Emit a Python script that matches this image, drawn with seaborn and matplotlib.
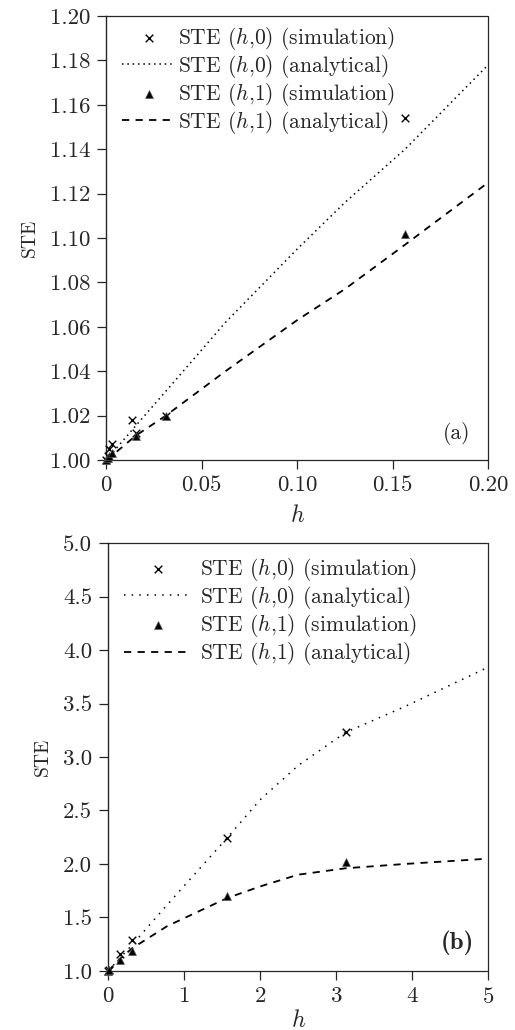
import numpy as np
import pandas as pd
import matplotlib
matplotlib.use("Agg")
import matplotlib.pyplot as plt
import seaborn as sns

# panel (a): small h
h_a_sim0 = [0, 0.0008, 0.0016, 0.0031, 0.0134, 0.0156, 0.0313, 0.1565]
ste_a_sim0 = [1.000, 1.002, 1.005, 1.007, 1.018, 1.012, 1.020, 1.154]
h_a_sim1 = [0, 0.0008, 0.0016, 0.0031, 0.0156, 0.0313, 0.1565]
ste_a_sim1 = [1.000, 1.001, 1.002, 1.003, 1.011, 1.020, 1.102]
h_a_line = [0, 0.0016, 0.0031, 0.0156, 0.0313, 0.0625, 0.1, 0.125, 0.1565, 0.2]
ste_a_ana0 = [1.0, 1.0016, 1.003, 1.0155, 1.031, 1.062, 1.095, 1.116, 1.140, 1.178]
ste_a_ana1 = [1.0, 1.001, 1.002, 1.011, 1.020, 1.040, 1.063, 1.077, 1.097, 1.125]

# panel (b): large h
h_b_sim = [0, 0.0156, 0.156, 0.3125, 1.5625, 3.125]
ste_b_sim0 = [1.00, 1.01, 1.16, 1.29, 2.24, 3.23]
ste_b_sim1 = [1.00, 1.01, 1.10, 1.19, 1.70, 2.02]
h_b_line = [0, 0.156, 0.3125, 0.78, 1.5625, 2.0, 2.5, 3.125, 3.9, 5.0]
ste_b_ana0 = [1.0, 1.12, 1.24, 1.62, 2.24, 2.60, 2.92, 3.23, 3.47, 3.84]
ste_b_ana1 = [1.0, 1.11, 1.21, 1.42, 1.68, 1.79, 1.90, 1.96, 2.00, 2.05]

labels = ["STE ($h$,0) (simulation)", "STE ($h$,0) (analytical)",
          "STE ($h$,1) (simulation)", "STE ($h$,1) (analytical)"]

sns.set_style("ticks")
plt.rcParams["font.family"] = "serif"
plt.rcParams["font.serif"] = ["cmr10", "DejaVu Serif"]
plt.rcParams["mathtext.fontset"] = "cm"
plt.rcParams["axes.formatter.use_mathtext"] = True
plt.rcParams["axes.unicode_minus"] = False

fig = plt.figure(figsize=(5.15, 10.3), dpi=100)
ax1 = fig.add_axes([0.206, 0.5534, 0.742, 0.4311])
ax2 = fig.add_axes([0.2097, 0.0573, 0.7383, 0.4155])


def draw(ax, hs0, s0, hs1, s1, hl, a0, a1, dot, leg_y, hlen, hpad, xpad):
    sns.scatterplot(x=hs0, y=s0, ax=ax, marker="x", color="black", s=30,
                    linewidth=1.0, clip_on=False, zorder=4, label=labels[0])
    sns.lineplot(x=hl, y=a0, ax=ax, color="black", lw=1.1,
                 linestyle=(0, dot), label=labels[1])
    sns.scatterplot(x=hs1, y=s1, ax=ax, marker="^", color="black", s=32,
                    edgecolor="#555555", linewidth=0.5, clip_on=False,
                    zorder=4, label=labels[2])
    sns.lineplot(x=hl, y=a1, ax=ax, color="black", lw=1.3,
                 linestyle=(0, (4, 3.5)), label=labels[3])
    for side in ["top", "right", "bottom"]:
        ax.spines[side].set_linestyle((0, (1, 1)))
        ax.spines[side].set_linewidth(0.9)
    ax.spines["left"].set_linewidth(1.0)
    ax.tick_params(direction="out", length=6.5, width=0.9, labelsize=16.5,
                   top=False, right=False, pad=5)
    ax.set_xlabel("$h$", fontsize=17, labelpad=xpad)
    ax.set_ylabel("STE", fontsize=14, labelpad=8)
    ax.legend(loc="upper left", bbox_to_anchor=(0.02, leg_y), frameon=False,
              fontsize=15.5, handlelength=hlen, handletextpad=hpad,
              labelspacing=0.05, borderaxespad=0.0)


draw(ax1, h_a_sim0, ste_a_sim0, h_a_sim1, ste_a_sim1,
     h_a_line, ste_a_ana0, ste_a_ana1, (1, 2.5), 1.0, 2.45, 0.15, 7)
ax1.set_xlim(0, 0.2)
ax1.set_ylim(1.0, 1.2)
ax1.set_xticks([0, 0.05, 0.10, 0.15, 0.20])
ax1.set_xticklabels(["0", "0.05", "0.10", "0.15", "0.20"])
ax1.set_yticks(np.arange(1.0, 1.2001, 0.02))
ax1.set_yticklabels([f"{v:.2f}" for v in np.arange(1.0, 1.2001, 0.02)])
ax1.text(0.918, 0.06, "(a)", transform=ax1.transAxes, fontsize=15.5,
         ha="center", va="center")

draw(ax2, h_b_sim, ste_b_sim0, h_b_sim, ste_b_sim1,
     h_b_line, ste_b_ana0, ste_b_ana1, (1, 4), 0.99, 3.1, 0.4, 2)
ax2.set_xlim(0, 5)
ax2.set_ylim(1.0, 5.0)
ax2.set_xticks(range(0, 6))
ax2.set_yticks(np.arange(1.0, 5.01, 0.5))
ax2.set_yticklabels([f"{v:.1f}" for v in np.arange(1.0, 5.01, 0.5)])
ax2.text(0.918, 0.065, "(b)", transform=ax2.transAxes, fontsize=18,
         family=["cmb10", "DejaVu Serif"], fontweight="bold",
         ha="center", va="center")

fig.savefig("out.png", dpi=100)
